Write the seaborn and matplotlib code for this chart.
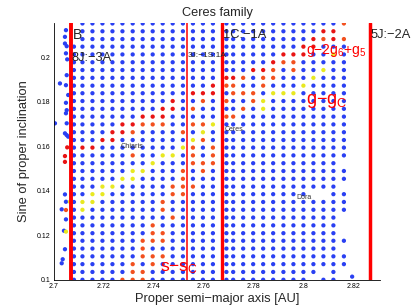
import pandas as pd
import matplotlib
matplotlib.use("Agg")
import matplotlib.pyplot as plt
import seaborn as sns

# proper semi-major axis of each grid column (first one squeezed next to 8J:-3A)
col_a = [2.7080, 2.7114, 2.7154, 2.7194, 2.7234, 2.7274, 2.7315, 2.7355, 2.7395,
         2.7435, 2.7475, 2.7516, 2.7556, 2.7596, 2.7636, 2.7690, 2.7717, 2.7757,
         2.7797, 2.7837, 2.7877, 2.7918, 2.7958, 2.7998, 2.8038, 2.8078, 2.8118, 2.8160]
# sine of proper inclination of each grid row (top to bottom)
row_sini = [0.2151, 0.2116, 0.2081, 0.2047, 0.2012, 0.1977, 0.1942, 0.1907, 0.1872,
            0.1838, 0.1803, 0.1768, 0.1733, 0.1698, 0.1663, 0.1628, 0.1594, 0.1559,
            0.1524, 0.1489, 0.1454, 0.1419, 0.1385, 0.1350, 0.1315, 0.1280, 0.1245,
            0.1210, 0.1176, 0.1141, 0.1106, 0.1071, 0.1036, 0.1001]

# grid cells (row -> column indices) that are not plain blue
red_cells = {1: [25, 26], 2: [24, 26], 3: [23, 24], 4: [21, 22, 23], 5: [20], 6: [18, 19],
             7: [15, 16], 8: [14], 9: [12, 13, 14], 10: [10], 11: [9, 10], 12: [7, 8, 9],
             13: [5, 6], 14: [4, 5], 15: [3, 4], 16: [1, 2]}
orange_cells = {0: [27], 2: [25, 27], 5: [21, 22], 6: [20, 22], 7: [17, 19, 20],
                8: [15, 16, 19], 9: [16, 17, 18], 10: [13, 15, 18], 11: [12, 17],
                12: [15, 16], 13: [7, 8, 9, 12, 13], 14: [6, 11], 15: [13], 16: [12, 14],
                17: [6, 12, 14], 18: [12, 13, 14], 19: [11, 13], 20: [11], 21: [10, 11, 12],
                22: [10, 11], 23: [9], 24: [9], 25: [10], 26: [8], 27: [8, 9], 28: [7, 8, 9],
                29: [7], 30: [7, 8, 9], 31: [6, 8], 32: [6, 7], 33: [5, 6, 7]}
yellow_cells = {4: [26], 6: [25], 7: [24], 8: [23], 9: [20, 21, 22], 10: [19], 11: [19],
                13: [14], 14: [13], 15: [12], 16: [11], 17: [9, 10], 18: [8], 19: [6, 7],
                20: [5, 6], 21: [3, 4], 22: [2, 3], 23: [1, 2], 24: [1]}
empty_cells = {0: [0], 1: [0, 27], 2: [0], 18: [27], 21: [27], 22: [24, 25], 25: [27],
               26: [27], 27: [27], 29: [27], 32: [25, 27], 33: [24, 27]}

# loose members off the grid
loose_a = [2.7048, 2.7044, 2.7044, 2.7051, 2.7048, 2.7053, 2.7051, 2.7024, 2.7048, 2.7057,
           2.7048, 2.7051, 2.7048, 2.7004, 2.7051, 2.7044, 2.7051, 2.7057, 2.7044, 2.7048,
           2.7031, 2.7048, 2.7040, 2.7044, 2.7035, 2.7031, 2.8193,
           2.7053, 2.7044, 2.7044, 2.7048, 2.7048, 2.7064]
loose_sini = [0.2121, 0.2091, 0.2061, 0.2049, 0.2017, 0.1990, 0.1919, 0.1882, 0.1874, 0.1830,
              0.1795, 0.1762, 0.1748, 0.1703, 0.1703, 0.1658, 0.1650, 0.1643, 0.1384, 0.1351,
              0.1317, 0.1272, 0.1221, 0.1138, 0.1093, 0.1075, 0.1015,
              0.1595, 0.1556, 0.1530, 0.1314, 0.1217, 0.1351]
loose_kind = ['blue'] * 27 + ['red', 'red', 'red', 'orange', 'yellow', 'yellow']

# resonances: position, width
res_a = [2.7068, 2.7534, 2.7673, 2.8263]
res_lw = [2.8, 1.1, 2.4, 2.5]

records = []
for i, s in enumerate(row_sini):
    for j, a in enumerate(col_a):
        if j in empty_cells.get(i, []):
            continue
        kind = 'blue'
        if j in red_cells.get(i, []):
            kind = 'red'
        elif j in orange_cells.get(i, []):
            kind = 'orange'
        elif j in yellow_cells.get(i, []):
            kind = 'yellow'
        records.append((a, s, kind))
for a, s, k in zip(loose_a, loose_sini, loose_kind):
    records.append((a, s, k))
df = pd.DataFrame(records, columns=['a', 'sini', 'kind'])

pal = {'blue': '#2a40f2', 'red': '#e81414', 'orange': '#f2501e', 'yellow': '#e8e820'}

sns.set_style('white')
plt.rcParams['font.family'] = ['Liberation Sans', 'DejaVu Sans']
plt.rcParams['mathtext.fontset'] = 'custom'
plt.rcParams['mathtext.rm'] = 'Liberation Sans'

fig = plt.figure(figsize=(4.15, 3.07), dpi=100)
ax = fig.add_axes([0.130, 0.088, 0.786, 0.837])

sns.scatterplot(data=df, x='a', y='sini', hue='kind', palette=pal, s=9.5,
                linewidth=0, legend=False, ax=ax, zorder=2)

for a, lw in zip(res_a, res_lw):
    ax.axvline(a, color='red', lw=lw, zorder=3)

ax.set_xlim(2.70, 2.8305)
ax.set_ylim(0.1, 0.2153)
ax.set_xticks([2.70, 2.72, 2.74, 2.76, 2.78, 2.80, 2.82])
ax.set_xticklabels(['2.7', '2.72', '2.74', '2.76', '2.78', '2.8', '2.82'])
ax.set_yticks([0.10, 0.12, 0.14, 0.16, 0.18, 0.20])
ax.set_yticklabels(['0.1', '0.12', '0.14', '0.16', '0.18', '0.2'])
ax.tick_params(direction='in', length=2.2, width=0.5, labelsize=5, pad=2.5, colors='black')
sns.despine(ax=ax)
for sp in ['left', 'bottom']:
    ax.spines[sp].set_linewidth(0.6)
    ax.spines[sp].set_color('black')

ax.set_title('Ceres family', fontsize=9.2, pad=5)
ax.set_xlabel('Proper semi\u2212major axis [AU]', fontsize=9.3, labelpad=2)
ax.set_ylabel('Sine of proper inclination', fontsize=9.3, labelpad=5)

txt = dict(zorder=4)
ax.text(2.7075, 0.2099, 'B', fontsize=10, va='center', **txt)
ax.text(2.7071, 0.1996, '8J:\u22123A', fontsize=9.3, va='center', **txt)
ax.text(2.7536, 0.2009, '3J:\u22121S:1A', fontsize=6, va='center', **txt)
ax.text(2.7676, 0.2099, '1C:\u22121A', fontsize=9.3, va='center', **txt)
ax.text(2.8267, 0.2099, '5J:\u22122A', fontsize=9.3, va='center', clip_on=False, **txt)
ax.text(2.8008, 0.2016, r'$\mathregular{g{-}2g_6{+}g_5}$', fontsize=10, color='red',
        va='baseline', **txt)
ax.text(2.8008, 0.1789, r'$\mathregular{g{-}g_C}$', fontsize=13, color='red',
        va='baseline', **txt)
ax.text(2.7424, 0.1037, r'$\mathregular{s{-}s_C}$', fontsize=12.5, color='red',
        va='baseline', **txt)
ax.text(2.7267, 0.1598, 'Chiaris', fontsize=5.3, color='#333333', va='center', **txt)
ax.text(2.7681, 0.1677, 'Ceres', fontsize=5, color='#333333', va='center', **txt)
ax.text(2.7971, 0.1368, 'Dora', fontsize=5, color='#333333', va='center', **txt)

fig.savefig('out.png', dpi=100)
